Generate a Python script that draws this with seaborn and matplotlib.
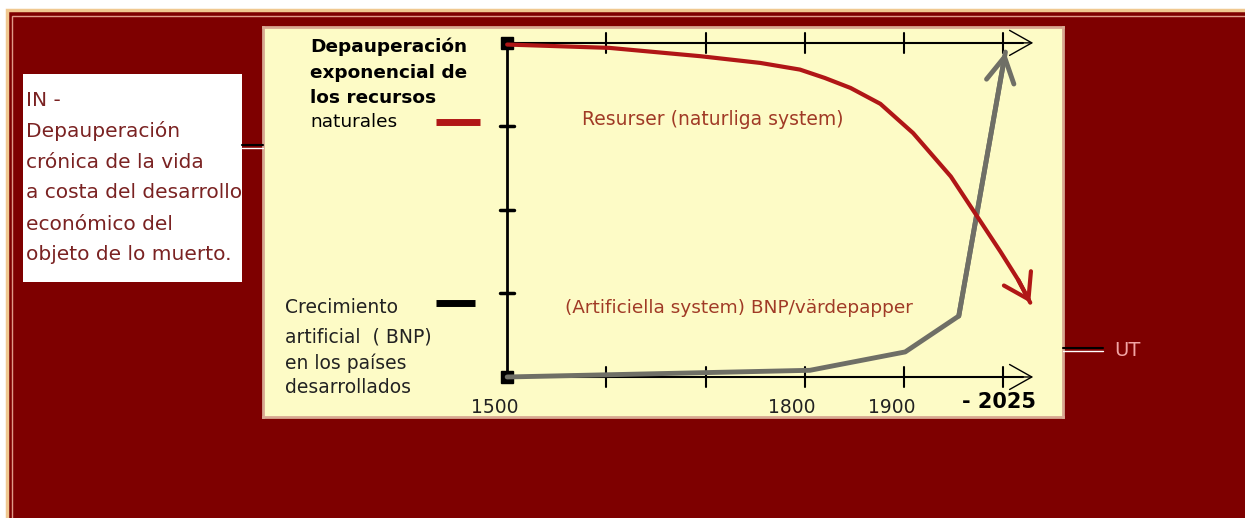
import numpy as np
import matplotlib
matplotlib.use("Agg")
from matplotlib import pyplot as plt
from matplotlib.patches import Rectangle
import seaborn as sns

# x in tick units along the time axis (0=1500, 3=1800, 4=1900, 5=2025), y in axis units 0..4
resource_x = [0, 1.03, 1.95, 2.55, 2.95, 3.20, 3.46, 3.76, 4.09, 4.47, 4.77, 4.97, 5.15, 5.27]
resource_y = [3.98, 3.94, 3.84, 3.76, 3.68, 3.58, 3.46, 3.27, 2.92, 2.40, 1.86, 1.50, 1.16, 0.89]
gdp_x = [0, 3.05, 4.01, 4.55, 5.02]
gdp_y = [0, 0.08, 0.30, 0.73, 3.89]

tick_pos = [0, 3, 4]
tick_labels = ["1500", "1800", "1900"]
last_label = "- 2025"

left_lines = ["IN -", "Depauperación", "crónica de la vida", "a costa del desarrollo",
              "económico del", "objeto de lo muerto."]
top_lines = ["Depauperación", "exponencial de", "los recursos", "naturales"]
bottom_lines = ["Crecimiento", "artificial  ( BNP)", "en los países", "desarrollados"]
resource_label = "Resurser (naturliga system)"
gdp_label = "(Artificiella system) BNP/värdepapper"

W, H = 1245, 518
DARK = "#7e0000"
PANEL = "#fdfbc6"
RED = "#b01616"
GRAY = "#6f6f66"

sns.set_theme(style="white")
plt.rcParams["font.family"] = ["DejaVu Sans"]

def fx(px):
    return px / W

def fy(py):
    return 1 - py / H

fig = plt.figure(figsize=(W / 100, H / 100), dpi=100, facecolor="white")

# outer frame
fig.patches.append(Rectangle((fx(7), fy(H + 5)), fx(W + 10), (H - 5) / H, transform=fig.transFigure,
                             facecolor=DARK, edgecolor="#f0c890", lw=2.5, zorder=-3))
fig.patches.append(Rectangle((fx(12), fy(H + 5)), fx(W + 10), (H - 11) / H, transform=fig.transFigure,
                             facecolor="none", edgecolor="#e09a88", lw=1, zorder=-2))

# left white box
fig.patches.append(Rectangle((fx(23), fy(282)), fx(219), 208 / H, transform=fig.transFigure,
                             facecolor="white", edgecolor="none", zorder=-1))
for i, line in enumerate(left_lines):
    fig.text(fx(26), fy(100 + i * 31), line, fontsize=14.5, color="#7a2222", va="center", ha="left", zorder=3)

# connectors
fig.add_artist(plt.Line2D([fx(242), fx(263)], [fy(145), fy(145)], color="black", lw=1.5))
fig.add_artist(plt.Line2D([fx(242), fx(263)], [fy(148), fy(148)], color="white", lw=1))
fig.add_artist(plt.Line2D([fx(1063), fx(1103)], [fy(348), fy(348)], color="black", lw=1.5))
fig.add_artist(plt.Line2D([fx(1063), fx(1103)], [fy(351), fy(351)], color="white", lw=1))
fig.text(fx(1114), fy(350), "UT", fontsize=14, color="#f2a4a4", va="center", ha="left")

# panel
ax = fig.add_axes([fx(263), fy(417), 800 / W, 390 / H])
ax.set_facecolor(PANEL)
ax.set_xlim(-2.46, 5.60)
ax.set_ylim(-0.479, 4.19)
ax.set_xticks([])
ax.set_yticks([])
for s in ax.spines.values():
    s.set_color("#d8a892")
    s.set_linewidth(2)

# axes drawing
ax.plot([0, 0], [0, 4], color="black", lw=2, zorder=3)
ax.plot([0, 5.2], [0, 0], color="black", lw=1.5, zorder=2)
ax.plot([0, 5.2], [4, 4], color="black", lw=1.5, zorder=2)
for yy in [1, 2, 3]:
    ax.plot([-0.07, 0.07], [yy, yy], color="black", lw=2.5, zorder=3)
for xx in [1, 2, 3, 4, 5]:
    ax.plot([xx, xx], [-0.12, 0.12], color="black", lw=1.5, zorder=3)
    ax.plot([xx, xx], [3.88, 4.12], color="black", lw=1.5, zorder=3)
for yy in [0, 4]:
    ax.annotate("", xy=(5.3, yy), xytext=(5.1, yy),
                arrowprops=dict(arrowstyle="->,head_length=0.8,head_width=0.45", color="black",
                                lw=1, mutation_scale=20, shrinkA=0, shrinkB=0))
ax.plot([0, 0], [0, 4], ls="none", marker="s", ms=9, color="black", zorder=4)

# curves
sns.lineplot(x=gdp_x, y=gdp_y, sort=False, color=GRAY, lw=3.5, ax=ax, zorder=5)
ax.annotate("", xy=(gdp_x[-1], gdp_y[-1]), xytext=(gdp_x[-2], gdp_y[-2]),
            arrowprops=dict(arrowstyle="->,head_length=0.9,head_width=0.5", color=GRAY,
                            lw=3.5, mutation_scale=20, shrinkA=0, shrinkB=0), zorder=5)
sns.lineplot(x=resource_x, y=resource_y, sort=False, color=RED, lw=3, ax=ax, zorder=6)
ax.annotate("", xy=(resource_x[-1], resource_y[-1]), xytext=(resource_x[-2], resource_y[-2]),
            arrowprops=dict(arrowstyle="->,head_length=0.85,head_width=0.55", color=RED,
                            lw=3, mutation_scale=20, shrinkA=0, shrinkB=0), zorder=6)

# legend-like keys
ax.plot([-0.716, -0.272], [3.05, 3.05], color=RED, lw=5, solid_capstyle="butt")
ax.plot([-0.716, -0.323], [0.886, 0.886], color="black", lw=5, solid_capstyle="butt")

top_y = [3.95, 3.64, 3.34, 3.05]
for i, line in enumerate(top_lines):
    ax.text(-1.986, top_y[i], line, fontsize=13.3, color="black", va="center", ha="left",
            fontweight="bold" if i < 3 else "normal")
bottom_y = [0.83, 0.48, 0.17, -0.12]
for i, line in enumerate(bottom_lines):
    ax.text(-2.238, bottom_y[i], line, fontsize=13.5, color="#222222", va="center", ha="left")

ax.text(0.756, 3.08, resource_label, fontsize=13.5, color="#a03a26", va="center", ha="left")
ax.text(0.585, 0.826, gdp_label, fontsize=13.3, color="#a03a26", va="center", ha="left")

for p, lab in zip(tick_pos, tick_labels):
    ax.text(p - 0.13, -0.36, lab, fontsize=13.5, color="#222222", va="center", ha="center")
ax.text(4.96, -0.30, last_label, fontsize=15, color="black", va="center", ha="center", fontweight="bold")

fig.savefig("out.png", dpi=100, facecolor=fig.get_facecolor())
